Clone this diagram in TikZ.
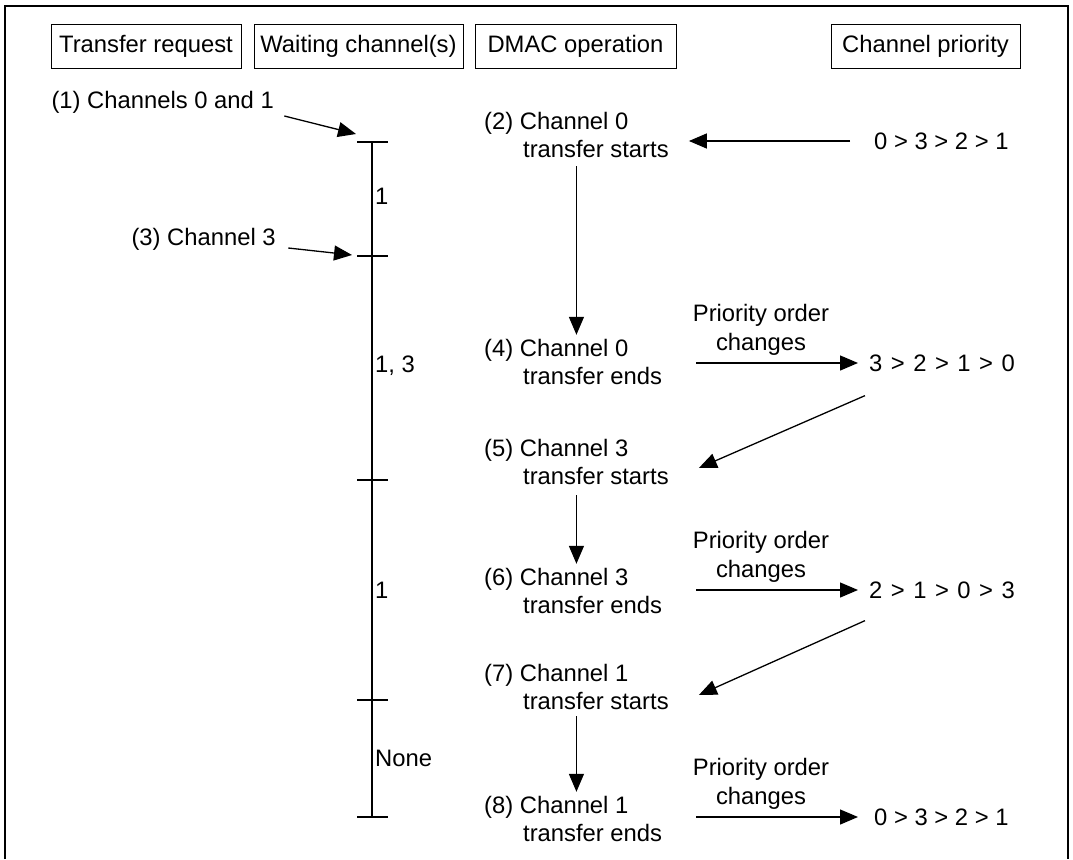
\documentclass[tikz,border=0pt]{standalone}
\usepackage{fontspec}
\setmainfont{Liberation Sans}
\usetikzlibrary{arrows.meta,positioning}

\newcommand{\pgt}{\hspace{8.5pt}>\hspace{8.5pt}}

\begin{document}
\begin{tikzpicture}[x=1pt, y=-1pt,
    every node/.style={font=\fontsize{23.8}{28.5}\selectfont},
    hdr/.style={draw, line width=1pt, minimum height=44pt, inner xsep=4pt},
    op/.style={align=left, anchor=west, inner sep=4pt},
    prio/.style={anchor=west, inner sep=4pt},
    arr/.style={-{Triangle[length=18pt, width=15pt]}, line width=1.3pt}
]
\useasboundingbox (0,0) rectangle (1073,859);
\draw[line width=2.5pt] (5,859) -- (5,6) -- (1068,6) -- (1068,859);

% column heads
\node[hdr, minimum width=190pt] (h1) at (146,46.5) {Transfer request};
\node[hdr, minimum width=209pt] (h2) at (358.5,46.5) {Waiting channel(s)};
\node[hdr, minimum width=201pt] (h3) at (575.5,46.5) {DMAC operation};
\node[hdr, minimum width=189pt] (h4) at (925.5,46.5) {Channel priority};

% time line
\foreach \y [count=\i] in {142,256,480,700,817} {
  \coordinate (t\i) at (372,\y);
  \draw[line width=1.3pt] (357,\y) -- (388,\y);
}
\draw[line width=1.3pt] (t1) -- (t5);

% requests
\node[anchor=west] (r1) at (48,102) {(1) Channels 0 and 1};
\node[anchor=west] (r3) at (128,239) {(3) Channel 3};
\draw[arr] ([xshift=7pt, yshift=-14pt]r1.east) -- ([xshift=-16pt, yshift=8pt]t1);
\draw[arr] ([xshift=9pt, yshift=-9pt]r3.east) -- ([xshift=-20pt, yshift=1pt]t2);

% waiting channels
\node[anchor=west, inner sep=2pt] (w1) at (373,196) {1};
\node[anchor=west, inner sep=2pt] (w2) at (373,366) {1, 3};
\node[anchor=west, inner sep=2pt] (w3) at (373,590) {1};
\node[anchor=west, inner sep=2pt] (w4) at (373,758) {None};

% DMAC operation
\node[op] (d2) at (480,135) {(2) Channel 0\\\hspace*{39pt}transfer starts};
\node[op] (d4) at (480,362) {(4) Channel 0\\\hspace*{39pt}transfer ends};
\node[op] (d5) at (480,462) {(5) Channel 3\\\hspace*{39pt}transfer starts};
\node[op] (d6) at (480,591) {(6) Channel 3\\\hspace*{39pt}transfer ends};
\node[op] (d7) at (480,687) {(7) Channel 1\\\hspace*{39pt}transfer starts};
\node[op] (d8) at (480,819) {(8) Channel 1\\\hspace*{39pt}transfer ends};

% channel priority
\node[prio] (p1) at (870,141) {0 > 3 > 2 > 1};
\node[prio] (p4) at (865,363) {3\pgt 2\pgt 1\pgt 0};
\node[prio] (p6) at (865,590) {2\pgt 1\pgt 0\pgt 3};
\node[prio] (p8) at (870,817) {0 > 3 > 2 > 1};

\node[align=center] (c4) at (761,330) {Priority order\\changes};
\node[align=center] (c6) at (761,557) {Priority order\\changes};
\node[align=center] (c8) at (761,784) {Priority order\\changes};

\draw[arr, shorten <=20pt, shorten >=16pt] (p1.west) -- (p1.west -| d2.east);
\draw[arr, shorten <=4pt] (d2.south) -- (d2.south |- d4.north);
\draw[arr, shorten <=30pt, shorten >=7pt] (p4.west -| d4.east) -- (p4.west);
\draw[arr] ([xshift=0pt, yshift=-20pt]p4.south west) -- ([xshift=26pt, yshift=-6pt]d5.east);
\draw[arr, shorten <=6pt] (d5.south) -- (d5.south |- d6.north);
\draw[arr, shorten <=30pt, shorten >=7pt] (p6.west -| d6.east) -- (p6.west);
\draw[arr] ([xshift=0pt, yshift=-18pt]p6.south west) -- ([xshift=26pt, yshift=-8pt]d7.east);
\draw[arr, shorten <=2pt] (d7.south) -- (d7.south |- d8.north);
\draw[arr, shorten <=30pt, shorten >=12pt] (p8.west -| d8.east) -- (p8.west);
\end{tikzpicture}
\end{document}
